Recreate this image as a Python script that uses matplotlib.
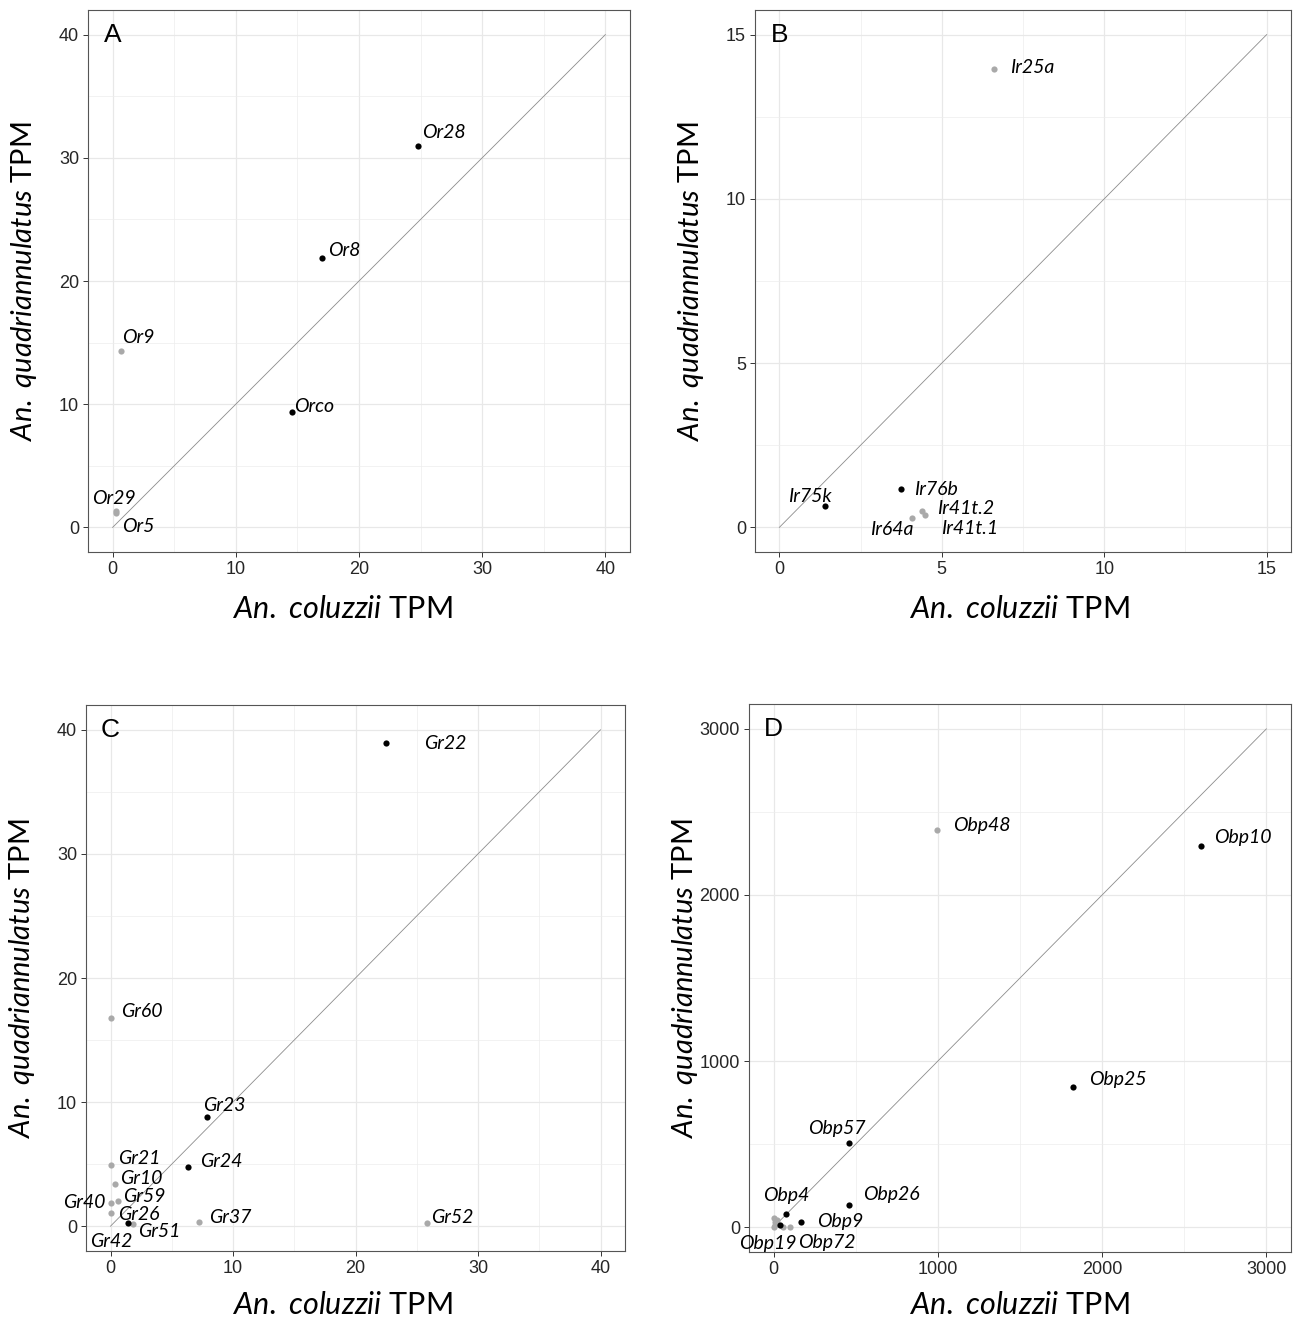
import matplotlib
matplotlib.use('Agg')
import matplotlib.pyplot as plt
from matplotlib.ticker import MultipleLocator

plt.rcParams['mathtext.fontset'] = 'custom'
plt.rcParams['mathtext.it'] = 'Lato:italic'
plt.rcParams['mathtext.rm'] = 'Lato'
plt.rcParams['font.family'] = ['Liberation Sans', 'DejaVu Sans']

# ---------------- data ----------------
or_genes = ['Or28', 'Or8', 'Or9', 'Orco', 'Or29', 'Or5']
or_col = [24.8, 17.0, 0.7, 14.6, 0.3, 0.25]
or_quad = [31.0, 21.9, 14.3, 9.4, 1.3, 1.15]
or_sig = [True, True, False, True, False, False]

ir_genes = ['Ir25a', 'Ir76b', 'Ir75k', 'Ir64a', 'Ir41t.2', 'Ir41t.1']
ir_col = [6.62, 3.75, 1.42, 4.08, 4.39, 4.49]
ir_quad = [13.96, 1.16, 0.64, 0.28, 0.49, 0.37]
ir_sig = [False, True, True, False, False, False]

gr_genes = ['Gr22', 'Gr60', 'Gr23', 'Gr24', 'Gr21', 'Gr10', 'Gr59', 'Gr40',
            'Gr26', 'Gr42', 'Gr51', 'Gr37', 'Gr52']
gr_col = [22.45, 0.0, 7.9, 6.34, 0.0, 0.33, 0.6, 0.0, 0.08, 1.44, 1.82, 7.2, 25.8]
gr_quad = [38.95, 16.76, 8.83, 4.78, 4.94, 3.43, 2.0, 1.84, 1.03, 0.22, 0.14, 0.3, 0.24]
gr_sig = [True, False, True, True, False, False, False, False, False, True, False,
          False, False]

obp_genes = ['Obp48', 'Obp10', 'Obp25', 'Obp57', 'Obp26', 'Obp4', 'Obp9', 'Obp19',
             'Obp72', '', '', '', '', '', '']
obp_col = [994, 2600, 1824, 460, 460, 73, 165, 8, 97, 38, 0, 60, 20, 10, 3]
obp_quad = [2390, 2293, 845, 507, 135, 80, 30, 32, 3, 12, 2, 2, 45, 15, 55]
obp_sig = [False, True, True, True, True, True, True, False, False, True, False,
           False, False, False, False]

panel_letters = ['A', 'B', 'C', 'D']
axis_max = [40, 15, 40, 3000]
tick_step = [10, 5, 10, 1000]

# label offsets in pixels (text left edge / vertical centre relative to point)
or_off = [(4, 13), (6, 7), (1, 14), (2, 5), (-24, 13), (6, -13)]
ir_off = [(16, 1), (13, 0), (-37, 10), (-42, -11), (15, 3), (16, -13)]
gr_off = [(39, -1), (11, 7), (-4, 11), (12, 5), (8, 6), (6, 5), (5, 5), (-47, 1),
          (7, -1), (-38, -18), (5, -7), (10, 5), (4, 6)]
obp_off = [(16, 5), (13, 9), (16, 7), (-41, 14), (14, 10), (-23, 18), (16, 1),
           (-36, -22), (8, -16), (0, 0), (0, 0), (0, 0), (0, 0), (0, 0), (0, 0)]

panels = [
    (or_genes, or_col, or_quad, or_sig, or_off),
    (ir_genes, ir_col, ir_quad, ir_sig, ir_off),
    (gr_genes, gr_col, gr_quad, gr_sig, gr_off),
    (obp_genes, obp_col, obp_quad, obp_sig, obp_off),
]

W, H = 1293, 1319
# axes boxes in pixels: left, right, top, bottom
boxes = [(88, 630, 10, 552), (755, 1291, 10, 552),
         (86, 625, 705, 1251), (749, 1291, 704, 1252)]
# x-axis title: centre x and baseline y in pixels
xtitle_xy = [(342, 618), (1019, 618), (342, 1314), (1019, 1314)]
ytitle_gap = 64  # px from panel left edge to y-title centre

fig = plt.figure(figsize=(W / 100, H / 100), dpi=100)

GREY_PT = '#A9A9A9'
for i, (genes, xc, yq, sig, off) in enumerate(panels):
    l, r, t, b = boxes[i]
    ax = fig.add_axes([l / W, 1 - b / H, (r - l) / W, (b - t) / H])
    m = axis_max[i]
    pad = 0.05 * m
    ax.set_xlim(-pad, m + pad)
    ax.set_ylim(-pad, m + pad)
    ax.xaxis.set_major_locator(MultipleLocator(tick_step[i]))
    ax.yaxis.set_major_locator(MultipleLocator(tick_step[i]))
    ax.xaxis.set_minor_locator(MultipleLocator(tick_step[i] / 2))
    ax.yaxis.set_minor_locator(MultipleLocator(tick_step[i] / 2))
    ax.grid(which='major', color='#E8E8E8', linewidth=0.9, zorder=0)
    ax.grid(which='minor', color='#EDEDED', linewidth=0.5, zorder=0)
    ax.set_axisbelow(True)
    ax.tick_params(which='minor', length=0)
    ax.tick_params(which='major', length=3.5, width=0.7, color='#333333',
                   labelsize=13, labelcolor='#262626', pad=3)
    for s in ax.spines.values():
        s.set_color('#555555')
        s.set_linewidth(0.8)
    ax.plot([0, m], [0, m], color='#8C8C8C', linewidth=0.6, zorder=2)
    gx = [x for x, s in zip(xc, sig) if not s]
    gy = [y for y, s in zip(yq, sig) if not s]
    bx = [x for x, s in zip(xc, sig) if s]
    by = [y for y, s in zip(yq, sig) if s]
    ax.scatter(gx, gy, s=20, color=GREY_PT, linewidths=0, zorder=3)
    ax.scatter(bx, by, s=20, color='black', linewidths=0, zorder=4)
    for g, x, y, o in zip(genes, xc, yq, off):
        if not g:
            continue
        ax.annotate(g, (x, y), xytext=o, textcoords='offset pixels',
                    ha='left', va='center', fontsize=14, fontstyle='italic',
                    fontfamily='Lato', color='black', zorder=5)
    ax.text(0, m, panel_letters[i], ha='center', va='center', fontsize=19,
            color='black', zorder=5)
    tx, ty = xtitle_xy[i]
    fig.text(tx / W, 1 - ty / H, r'$\mathit{An.\ coluzzii}$ TPM', fontsize=22,
             fontfamily='Lato', ha='center', va='baseline')
    fig.text((l - ytitle_gap) / W, 1 - (t + b) / 2 / H,
             r'$\mathit{An.\ quadriannulatus}$ TPM', fontsize=21,
             fontfamily='Lato', ha='center', va='center', rotation=90)

fig.savefig('out.png', dpi=100)
